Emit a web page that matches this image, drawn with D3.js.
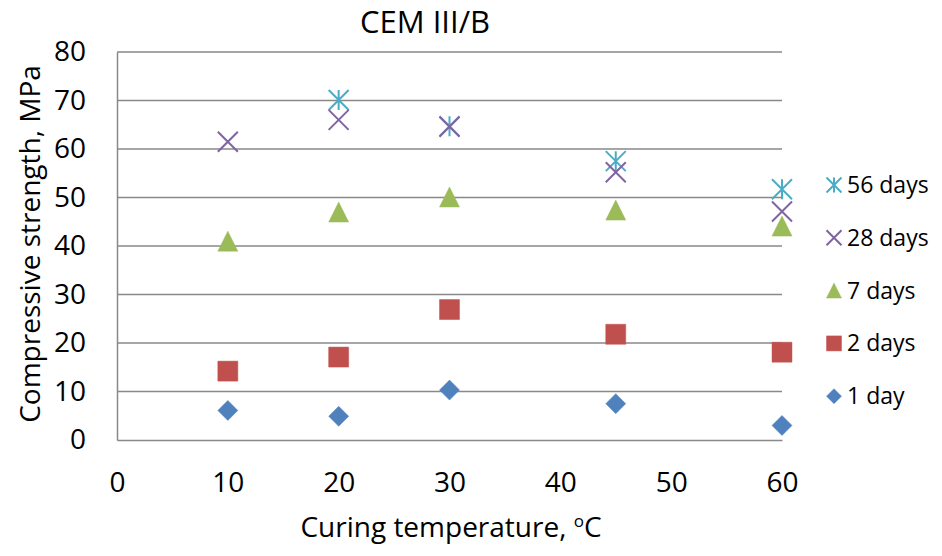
<!DOCTYPE html>
<html lang="en">
<head>
<meta charset="UTF-8">
<title>CEM III/B</title>
<script src="https://cdn.jsdelivr.net/npm/d3@7"></script>
<style>
  body { margin: 0; background: #fff; }
  text { font-family: "Open Sans", sans-serif; fill: #000; }
</style>
</head>
<body>
<script>
// values
var temps = [10, 20, 30, 45, 60];
var day1 = [6.1, 4.9, 10.3, 7.5, 3.0];
var day2 = [14.2, 17.1, 26.9, 21.8, 18.1];
var day7 = [41.0, 47.0, 50.1, 47.4, 44.1];
var day28 = [61.5, 66.0, 64.6, 55.2, 47.1];
var day56 = [null, 70.1, 64.7, 57.5, 51.7];
var xTicks = [0, 10, 20, 30, 40, 50, 60];
var yTicks = [0, 10, 20, 30, 40, 50, 60, 70, 80];

var series = [
  { name: "56 days", values: day56, color: "#4BACC6", shape: "star" },
  { name: "28 days", values: day28, color: "#8064A2", shape: "cross" },
  { name: "7 days", values: day7, color: "#9BBB59", shape: "triangle" },
  { name: "2 days", values: day2, color: "#C0504D", shape: "square" },
  { name: "1 day", values: day1, color: "#4F81BD", shape: "diamond" }
];

var W = 942, H = 556;
var pad = { left: 117, right: 160, top: 52, bottom: 116 };

var svg = d3.select("body").append("svg")
  .attr("width", W).attr("height", H);

var x = d3.scaleLinear().domain([0, 60]).range([pad.left, W - pad.right]);
var y = d3.scaleLinear().domain([0, 80]).range([H - pad.bottom, pad.top]);

// marker shapes, s = full width
function markerPath(shape, s) {
  var h = s / 2;
  if (shape == "diamond") return "M0," + (-h) + "L" + h + ",0L0," + h + "L" + (-h) + ",0Z";
  if (shape == "square") return "M" + (-h) + "," + (-h) + "h" + s + "v" + s + "h" + (-s) + "Z";
  if (shape == "triangle") return "M0," + (-h) + "L" + h + "," + h + "L" + (-h) + "," + h + "Z";
  if (shape == "cross") return "M" + (-h) + "," + (-h) + "L" + h + "," + h + "M" + h + "," + (-h) + "L" + (-h) + "," + h;
  return "M" + (-h) + "," + (-h) + "L" + h + "," + h + "M" + h + "," + (-h) + "L" + (-h) + "," + h +
    "M0," + (-h) + "V" + h;
}
function drawMarker(g, shape, color, s) {
  var line = shape == "cross" || shape == "star";
  g.append("path")
    .attr("d", markerPath(shape, s))
    .attr("fill", line ? "none" : color)
    .attr("stroke", color)
    .attr("stroke-width", line ? 2 : 0.8)
    .attr("stroke-opacity", line ? 1 : 0.6);
}

// gridlines
svg.append("g")
  .selectAll("line")
  .data(yTicks.filter(d => d > 0))
  .enter().append("line")
  .attr("x1", x(0)).attr("x2", x(60))
  .attr("y1", d => y(d)).attr("y2", d => y(d))
  .attr("stroke", "#898989").attr("stroke-width", 1.5);

// axes
var yAxis = d3.axisLeft(y).tickValues(yTicks).tickSize(0).tickPadding(31);
var xAxis = d3.axisBottom(x).tickValues(xTicks).tickSize(0).tickPadding(32);

var gy = svg.append("g").attr("transform", "translate(" + pad.left + ",0)").call(yAxis);
var gx = svg.append("g").attr("transform", "translate(0," + (H - pad.bottom) + ")").call(xAxis);
[gx, gy].forEach(function (g) {
  g.select(".domain").attr("stroke", "#898989").attr("stroke-width", 1.5);
  g.selectAll("text").style("font-size", "28px").style("font-family", "'Open Sans', sans-serif");
});

// points
series.forEach(function (s) {
  var pts = temps.map((t, i) => [t, s.values[i]]).filter(p => p[1] != null);
  pts.forEach(function (p) {
    var g = svg.append("g").attr("transform", "translate(" + x(p[0]) + "," + y(p[1]) + ")");
    drawMarker(g, s.shape, s.color, 20);
  });
});

// title and axis titles
svg.append("text").attr("x", 425).attr("y", 33)
  .attr("text-anchor", "middle").style("font-size", "31px").text("CEM III/B");

var xt = svg.append("text").attr("x", 451).attr("y", 537)
  .attr("text-anchor", "middle").style("font-size", "28px");
xt.append("tspan").text("Curing temperature, ");
xt.append("tspan").attr("dy", -10).style("font-size", "17px").text("o");
xt.append("tspan").attr("dy", 10).text("C");

svg.append("text")
  .attr("transform", "translate(40," + 244 + ") rotate(-90)")
  .attr("text-anchor", "middle").style("font-size", "28px")
  .text("Compressive strength, MPa");

// legend
var lg = svg.append("g");
series.forEach(function (s, i) {
  var ly = 185 + i * 52.8;
  var g = lg.append("g").attr("transform", "translate(834," + ly + ")");
  drawMarker(g, s.shape, s.color, 15);
  lg.append("text").attr("x", 847).attr("y", ly + 8)
    .style("font-size", "23px").text(s.name);
});
</script>
</body>
</html>
